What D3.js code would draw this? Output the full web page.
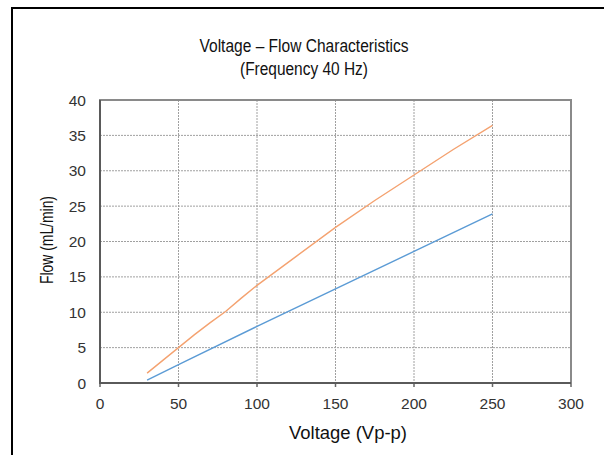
<!DOCTYPE html>
<html><head><meta charset="utf-8">
<script src="https://cdn.jsdelivr.net/npm/d3@7"></script>
<style>body{margin:0;background:#fff}svg{display:block}</style>
</head><body>
<div id="chart"></div>
<script>
const xTicks = [0, 50, 100, 150, 200, 250, 300];
const yTicks = [0, 5, 10, 15, 20, 25, 30, 35, 40];
const blueV = [30, 50, 100, 150, 200, 250];
const blueFlow = [0.4, 2.6, 8.0, 13.3, 18.6, 23.9];
const orangeV = [30, 40, 50, 60, 70, 80, 90, 100, 125, 150, 175, 200, 225, 250];
const orangeFlow = [1.4, 3.2, 5.0, 6.8, 8.5, 10.1, 12.0, 13.8, 17.9, 22.0, 25.8, 29.4, 33.0, 36.4];
const titleLines = ["Voltage \u2013 Flow Characteristics", "(Frequency 40 Hz)"];
const titleWidths = [209, 128];
const xTitle = "Voltage (Vp-p)";
const yTitle = "Flow (mL/min)";

const W = 604, H = 455;
const L = 100, R = 571, T = 100, B = 383;
const svg = d3.select("#chart").append("svg").attr("width", W).attr("height", H);
const font = "'Liberation Sans', Arial, sans-serif";

// outer frame (partial)
svg.append("path").attr("d", `M12,${H} L12,8 L${W},8`).attr("fill","none").attr("stroke","#000").attr("stroke-width",2);

const x = d3.scaleLinear().domain([0, 300]).range([L, R]);
const y = d3.scaleLinear().domain([0, 40]).range([B, T]);

// gridlines
const g = svg.append("g");
g.selectAll(".vg").data(xTicks.slice(1, -1)).join("line")
  .attr("x1", d => x(d)).attr("x2", d => x(d)).attr("y1", T).attr("y2", B)
  .attr("stroke", "#a0a0a0").attr("stroke-width", 1).attr("stroke-dasharray", "2,1");
g.selectAll(".hg").data(yTicks.slice(1, -1)).join("line")
  .attr("x1", L).attr("x2", R).attr("y1", d => y(d)).attr("y2", d => y(d))
  .attr("stroke", "#a0a0a0").attr("stroke-width", 1).attr("stroke-dasharray", "2,1");

// x ticks (small outward)
g.selectAll(".xt").data(xTicks).join("line")
  .attr("x1", d => x(d)).attr("x2", d => x(d)).attr("y1", B).attr("y2", B + 4)
  .attr("stroke", "#666").attr("stroke-width", 1.5);

// frame of plot
svg.append("rect").attr("x", L).attr("y", T).attr("width", R - L).attr("height", B - T)
  .attr("fill", "none").attr("stroke", "#8a8a8a").attr("stroke-width", 2);
svg.append("path").attr("d", `M${L},${T} L${L},${B} L${R},${B}`)
  .attr("fill", "none").attr("stroke", "#5a5a5a").attr("stroke-width", 2);

// tick labels
svg.selectAll(".xl").data(xTicks).join("text")
  .attr("x", d => x(d)).attr("y", 409).attr("text-anchor", "middle")
  .attr("font-family", font).attr("font-size", 15.5).attr("fill", "#333").text(d => d);
svg.selectAll(".yl").data(yTicks).join("text")
  .attr("x", 86).attr("y", d => y(d) + 5.5).attr("text-anchor", "end")
  .attr("font-family", font).attr("font-size", 15.5).attr("fill", "#333").text(d => d);

// lines
const line = d3.line().x(d => x(d[0])).y(d => y(d[1]));
svg.append("path").datum(blueV.map((v, i) => [v, blueFlow[i]])).attr("d", line)
  .attr("fill", "none").attr("stroke", "#5b9bd5").attr("stroke-width", 1.4);
svg.append("path").datum(orangeV.map((v, i) => [v, orangeFlow[i]])).attr("d", line)
  .attr("fill", "none").attr("stroke", "#f4a270").attr("stroke-width", 1.4);

// titles
svg.selectAll(".tt").data(titleLines).join("text")
  .attr("x", 304).attr("y", (d, i) => 52 + i * 23).attr("text-anchor", "middle")
  .attr("font-family", font).attr("font-size", 17.5).attr("fill", "#111")
  .attr("textLength", (d, i) => titleWidths[i]).attr("lengthAdjust", "spacingAndGlyphs")
  .text(d => d);
svg.append("text").attr("x", 348).attr("y", 439).attr("text-anchor", "middle")
  .attr("font-family", font).attr("font-size", 17.5).attr("fill", "#111")
  .attr("textLength", 118).attr("lengthAdjust", "spacingAndGlyphs").text(xTitle);
svg.append("text").attr("transform", "translate(53,240) rotate(-90)").attr("text-anchor", "middle")
  .attr("font-family", font).attr("font-size", 18).attr("fill", "#111")
  .attr("textLength", 88).attr("lengthAdjust", "spacingAndGlyphs").text(yTitle);
</script>
</body></html>
